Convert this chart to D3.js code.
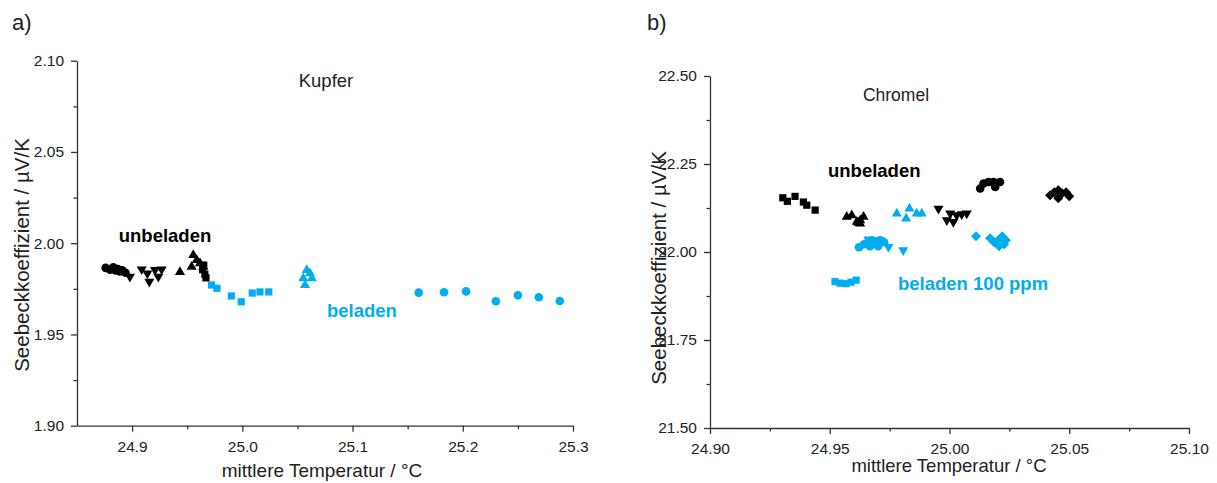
<!DOCTYPE html>
<html>
<head>
<meta charset="utf-8">
<script src="https://cdn.jsdelivr.net/npm/d3@7"></script>
<style>
  body { margin: 0; background: #fff; }
  svg { display: block; font-family: "Liberation Sans", Arial, sans-serif; }
</style>
</head>
<body>
<svg id="chart" width="1217" height="483"></svg>
<script>
// ---- Daten Kupfer (a) ----
const cuUnbKreisT = [24.876, 24.880, 24.883, 24.885, 24.887, 24.889, 24.891, 24.894];
const cuUnbKreisV = [1.9865, 1.9855, 1.9868, 1.9850, 1.9858, 1.9845, 1.9852, 1.9838];
const cuUnbDreieckUntenT = [24.898, 24.9087, 24.9138, 24.9156, 24.9208, 24.9238, 24.9268];
const cuUnbDreieckUntenV = [1.9816, 1.9857, 1.9835, 1.9789, 1.9853, 1.9816, 1.9857];
const cuUnbDreieckT = [24.9434, 24.9555, 24.9586, 24.9616, 24.954, 24.9646];
const cuUnbDreieckV = [1.9842, 1.9935, 1.9908, 1.9890, 1.9871, 1.9871];
const cuUnbQuadratT = [24.964, 24.966, 24.967, 24.965];
const cuUnbQuadratV = [1.9855, 1.9830, 1.9810, 1.9880];
const cuBelQuadratT = [24.972, 24.977, 24.990, 24.999, 25.009, 25.016, 25.024];
const cuBelQuadratV = [1.9771, 1.9753, 1.9711, 1.9679, 1.9727, 1.9733, 1.9733];
const cuBelDreieckT = [25.0584, 25.0614, 25.0553, 25.0569, 25.0630];
const cuBelDreieckV = [1.9853, 1.9835, 1.9808, 1.9771, 1.9808];
const cuBelKreisT = [25.160, 25.183, 25.203, 25.230, 25.250, 25.269, 25.288];
const cuBelKreisV = [1.9729, 1.9731, 1.9736, 1.9682, 1.9715, 1.9704, 1.9683];

// ---- Daten Chromel (b) ----
const crUnbQuadratT = [24.9304, 24.9323, 24.9355, 24.9390, 24.9404, 24.9439];
const crUnbQuadratV = [22.154, 22.144, 22.158, 22.142, 22.133, 22.119];
const crUnbDreieckT = [24.9571, 24.9592, 24.9613, 24.9627, 24.9641, 24.9627, 24.9620];
const crUnbDreieckV = [22.0996, 22.1044, 22.0854, 22.0901, 22.0996, 22.0806, 22.0830];
const crUnbDreieckUntenT = [24.9954, 25.0003, 24.9989, 25.0016, 25.0030, 25.0051, 25.0072];
const crUnbDreieckUntenV = [22.1234, 22.1093, 22.0902, 22.0854, 22.1044, 22.1073, 22.1093];
const crUnbKreisT = [25.0128, 25.0142, 25.0163, 25.0184, 25.0191, 25.0211];
const crUnbKreisV = [22.1802, 22.1944, 22.1989, 22.1989, 22.1847, 22.1989];
const crUnbRauteT = [25.0420, 25.0437, 25.0454, 25.0470, 25.0487, 25.0500, 25.0454];
const crUnbRauteV = [22.1612, 22.1697, 22.1754, 22.1669, 22.1697, 22.1583, 22.1527];
const crBelQuadratT = [24.9522, 24.9543, 24.9568, 24.9589, 24.9610];
const crBelQuadratV = [21.9157, 21.9115, 21.9100, 21.9143, 21.9200];
const crBelKreisT = [24.9622, 24.9643, 24.9660, 24.9677, 24.9693, 24.9710, 24.9727, 24.9668, 24.9702];
const crBelKreisV = [22.0136, 22.0221, 22.0278, 22.0335, 22.0278, 22.0335, 22.0278, 22.0165, 22.0165];
const crBelDreieckUntenT = [24.9661, 24.9710, 24.9745, 24.9807];
const crBelDreieckUntenV = [22.0355, 22.0335, 22.0145, 22.0051];
const crBelDreieckT = [24.9780, 24.9833, 24.9819, 24.9863, 24.9884];
const crBelDreieckV = [22.1092, 22.1234, 22.0951, 22.1092, 22.1092];
const crBelRauteT = [25.0111, 25.0170, 25.0186, 25.0203, 25.0220, 25.0228, 25.0236, 25.0207];
const crBelRauteV = [22.0448, 22.0392, 22.0278, 22.0335, 22.0448, 22.0221, 22.0335, 22.0165];

// Achsenticks
const cuXTicks = [24.9, 25.0, 25.1, 25.2, 25.3];
const cuXMinor = [24.95, 25.05, 25.15, 25.25];
const cuYTicks = [1.90, 1.95, 2.00, 2.05, 2.10];
const cuYMinor = [1.925, 1.975, 2.025, 2.075];
const crXTicks = [24.90, 24.95, 25.00, 25.05, 25.10];
const crXMinor = [24.925, 24.975, 25.025, 25.075];
const crYTicks = [21.50, 21.75, 22.00, 22.25, 22.50];
const crYMinor = [21.625, 21.875, 22.125, 22.375];

const schwarz = "#000000";
const blau = "#00aeef";

function serie(t, v, form, farbe) {
    return { rows: t.map((x, i) => ({ x: x, y: v[i] })), form: form, farbe: farbe };
}

const panelA = {
    xDomain: [24.85, 25.3], yDomain: [1.90, 2.10],
    xRange: [77, 573], yRange: [425.7, 60.7],
    xTicks: cuXTicks, xMinor: cuXMinor, yTicks: cuYTicks, yMinor: cuYMinor,
    xFormat: d3.format(".1f"), yFormat: d3.format(".2f"),
    serien: [
        serie(cuUnbKreisT, cuUnbKreisV, "kreis", schwarz),
        serie(cuUnbDreieckUntenT, cuUnbDreieckUntenV, "unten", schwarz),
        serie(cuUnbDreieckT, cuUnbDreieckV, "oben", schwarz),
        serie(cuUnbQuadratT, cuUnbQuadratV, "quadrat", schwarz),
        serie(cuBelQuadratT, cuBelQuadratV, "quadrat", blau),
        serie(cuBelDreieckT, cuBelDreieckV, "oben", blau),
        serie(cuBelKreisT, cuBelKreisV, "kreis", blau)
    ]
};

const panelB = {
    xDomain: [24.90, 25.10], yDomain: [21.50, 22.50],
    xRange: [710, 1189], yRange: [428, 76],
    xTicks: crXTicks, xMinor: crXMinor, yTicks: crYTicks, yMinor: crYMinor,
    xFormat: d3.format(".2f"), yFormat: d3.format(".2f"),
    serien: [
        serie(crUnbQuadratT, crUnbQuadratV, "quadrat", schwarz),
        serie(crUnbDreieckT, crUnbDreieckV, "oben", schwarz),
        serie(crUnbDreieckUntenT, crUnbDreieckUntenV, "unten", schwarz),
        serie(crUnbKreisT, crUnbKreisV, "kreis", schwarz),
        serie(crUnbRauteT, crUnbRauteV, "raute", schwarz),
        serie(crBelQuadratT, crBelQuadratV, "quadrat", blau),
        serie(crBelKreisT, crBelKreisV, "kreis", blau),
        serie(crBelDreieckUntenT, crBelDreieckUntenV, "unten", blau),
        serie(crBelDreieckT, crBelDreieckV, "oben", blau),
        serie(crBelRauteT, crBelRauteV, "raute", blau)
    ]
};

function symbolPfad(form) {
    if (form == "kreis") return d3.symbol(d3.symbolCircle, 58)();
    if (form == "quadrat") return d3.symbol(d3.symbolSquare, 52)();
    if (form == "raute") return d3.symbol(d3.symbolSquare, 50)();
    return d3.symbol(d3.symbolTriangle, 44)();
}

function symbolDrehung(form) {
    if (form == "unten") return 180;
    if (form == "raute") return 45;
    return 0;
}

function drawPanel(svg, p) {
    let scaleX = d3.scaleLinear().domain(p.xDomain).range(p.xRange);
    let scaleY = d3.scaleLinear().domain(p.yDomain).range(p.yRange);
    let x0 = p.xRange[0];
    let y0 = p.yRange[0];

    // Nebenticks
    svg.append("g")
        .attr("transform", `translate(0, ${y0})`)
        .call(d3.axisBottom(scaleX).tickValues(p.xMinor).tickSize(3.5).tickFormat(""))
        .call(g => g.select(".domain").remove());
    svg.append("g")
        .attr("transform", `translate(${x0}, 0)`)
        .call(d3.axisLeft(scaleY).tickValues(p.yMinor).tickSize(3.5).tickFormat(""))
        .call(g => g.select(".domain").remove());

    // Hauptachsen
    svg.append("g")
        .attr("class", "x-axis")
        .attr("transform", `translate(0, ${y0})`)
        .call(d3.axisBottom(scaleX).tickValues(p.xTicks).tickSize(6).tickSizeOuter(0)
            .tickPadding(9).tickFormat(p.xFormat));
    svg.append("g")
        .attr("class", "y-axis")
        .attr("transform", `translate(${x0}, 0)`)
        .call(d3.axisLeft(scaleY).tickValues(p.yTicks).tickSize(6).tickSizeOuter(0)
            .tickPadding(7).tickFormat(p.yFormat));

    svg.selectAll("g.tick line, path.domain")
        .attr("stroke", "#333")
        .attr("stroke-width", 1.3);
    svg.selectAll("g.tick text")
        .attr("fill", "#222")
        .style("font-size", "15.5px")
        .style("font-family", "'Liberation Sans', Arial, sans-serif");

    // Datenpunkte
    for (let s of p.serien) {
        svg.append("g")
            .selectAll("path")
            .data(s.rows)
            .enter()
            .append("path")
            .attr("d", symbolPfad(s.form))
            .attr("transform", d => `translate(${scaleX(d.x)}, ${scaleY(d.y)}) rotate(${symbolDrehung(s.form)})`)
            .attr("fill", s.farbe);
    }
}

let svg = d3.select("#chart");

drawPanel(svg, panelA);
drawPanel(svg, panelB);

// Beschriftungen
function text(x, y, t, size, opts) {
    opts = opts || {};
    let el = svg.append("text")
        .attr("x", x).attr("y", y)
        .attr("text-anchor", opts.anchor || "middle")
        .attr("fill", opts.fill || "#222")
        .style("font-size", size + "px")
        .style("font-weight", opts.bold ? "bold" : "normal")
        .text(t);
    if (opts.rotate) el.attr("transform", `rotate(-90, ${x}, ${y})`);
    return el;
}

text(12, 30, "a)", 22, { anchor: "start" });
text(647, 30, "b)", 22, { anchor: "start" });
text(326, 87, "Kupfer", 18.5);
text(896, 101, "Chromel", 17.5);

text(322, 477, "mittlere Temperatur / °C", 19);
text(949, 472, "mittlere Temperatur / °C", 18.5);
text(29, 255, "Seebeckkoeffizient / µV/K", 20.5, { rotate: true });
text(666, 268, "Seebeckkoeffizient / µV/K", 20.5, { rotate: true });

text(165, 242, "unbeladen", 18.5, { bold: true, fill: "#000" });
text(327, 317, "beladen", 18.5, { bold: true, fill: blau, anchor: "start" });
text(828, 177, "unbeladen", 18.5, { bold: true, fill: "#000", anchor: "start" });
text(898, 290, "beladen 100 ppm", 18.5, { bold: true, fill: blau, anchor: "start" });
</script>
</body>
</html>
